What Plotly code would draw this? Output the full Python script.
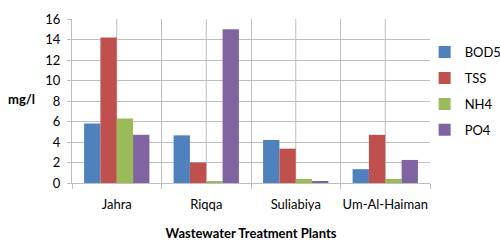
import plotly.graph_objects as go

plants = ["Jahra", "Riqqa", "Suliabiya", "Um-Al-Haiman"]
bod5 = [5.8, 4.65, 4.2, 1.35]
tss = [14.2, 2.0, 3.35, 4.7]
nh4 = [6.3, 0.1, 0.4, 0.4]
po4 = [4.7, 15.0, 0.12, 2.25]

series = [("BOD5", bod5, "#4F81BD"), ("TSS", tss, "#C0504D"),
          ("NH4", nh4, "#9BBB59"), ("PO4", po4, "#8064A2")]

font = "Lato, Open Sans, sans-serif"
grid = "#BEBEBE"

fig = go.Figure()
for i, (name, vals, col) in enumerate(series):
    fig.add_trace(go.Bar(x=plants, y=vals, name=name, marker_color=col,
                         marker_line_width=0, legendgroup=f"g{i}"))

# mid-category vertical gridlines
for p in plants:
    fig.add_shape(type="line", xref="x", yref="y", x0=p, x1=p, y0=0, y1=16,
                  line=dict(color=grid, width=1), layer="below")

fig.update_layout(
    width=500, height=245,
    margin=dict(l=72, r=70, t=19, b=62, autoexpand=False),
    paper_bgcolor="white", plot_bgcolor="white",
    barmode="group", bargap=0.27, bargroupgap=0,
    font=dict(family=font, size=13, color="#000000"),
    showlegend=True,
    legend=dict(x=0.985, xanchor="left", y=0.56, yanchor="middle",
                font=dict(size=13), tracegroupgap=6,
                bgcolor="rgba(0,0,0,0)"),
    annotations=[
        dict(text="<b>mg/l</b>", xref="paper", yref="paper", x=-0.14, y=0.51,
             xanchor="center", yanchor="middle", showarrow=False,
             font=dict(size=13, family=font)),
    ],
)
fig.update_xaxes(
    type="category", tickson="boundaries", showgrid=True, gridcolor=grid,
    gridwidth=1, ticks="outside", ticklen=5, tickcolor=grid, tickangle=0,
    showline=True, linecolor=grid, mirror=False, automargin=False,
    tickfont=dict(size=13), ticklabelstandoff=9,
    title=dict(text="<b>Wastewater Treatment Plants</b>", font=dict(size=13), standoff=18),
)
fig.update_yaxes(
    range=[0, 16], dtick=2, showgrid=True, gridcolor=grid, gridwidth=1,
    ticks="outside", ticklen=4, tickcolor=grid, showline=True, linecolor=grid,
    zeroline=False, tickfont=dict(size=13), ticklabelstandoff=4, automargin=False,
)

fig.write_html("out.html", config={"displayModeBar": False},
               post_script="document.body.style.margin='0';document.body.style.overflow='hidden';")
